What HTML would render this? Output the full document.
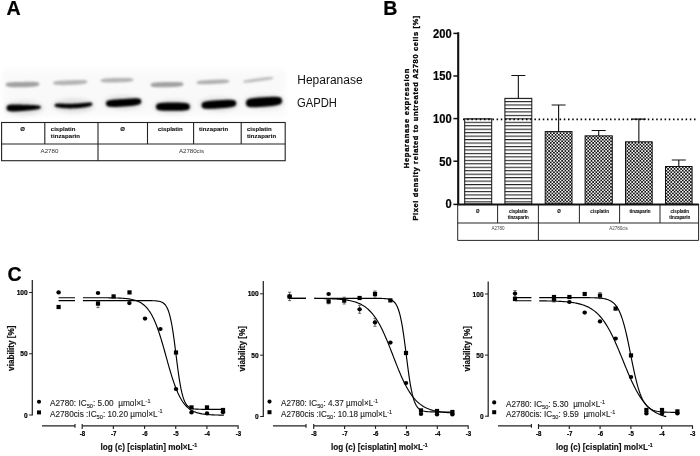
<!DOCTYPE html>
<html><head><meta charset="utf-8"><title>Figure</title>
<style>
html,body{margin:0;padding:0;background:#fff;}
body{width:700px;height:456px;overflow:hidden;font-family:"Liberation Sans",sans-serif;}
svg{display:block;opacity:0.999;font-family:"Liberation Sans",sans-serif;}
</style></head><body>
<svg width="700" height="456" viewBox="0 0 700 456">
<defs>
<filter id="b1" filterUnits="userSpaceOnUse" x="0" y="60" width="300" height="70"><feGaussianBlur stdDeviation="0.9"/></filter>
<filter id="b2" filterUnits="userSpaceOnUse" x="0" y="60" width="300" height="70"><feGaussianBlur stdDeviation="1.3"/></filter>
<filter id="b3" filterUnits="userSpaceOnUse" x="0" y="55" width="300" height="75"><feGaussianBlur stdDeviation="3"/></filter>
<filter id="b3s" filterUnits="userSpaceOnUse" x="0" y="55" width="300" height="75"><feGaussianBlur stdDeviation="2"/></filter>
<filter id="t1"><feGaussianBlur stdDeviation="0.35"/></filter>
<pattern id="hl" x="0" y="118.3" width="10" height="3.46" patternUnits="userSpaceOnUse"><rect x="0" y="0" width="10" height="1.1" fill="#222"/></pattern>
<pattern id="ck" x="545" y="130.7" width="3.26" height="3.26" patternUnits="userSpaceOnUse"><rect width="3.26" height="3.26" fill="#fff"/><rect x="-0.04" y="-0.04" width="1.71" height="1.71" fill="#111"/><rect x="1.59" y="1.59" width="1.71" height="1.71" fill="#111"/></pattern>
</defs>
<rect width="700" height="456" fill="#fff"/>

<text x="6.5" y="15.1" font-size="19.6" font-weight="bold" fill="#000" stroke="#000" stroke-width="0.2">A</text>
<rect x="3" y="70" width="282" height="46" fill="#f9f9f9" filter="url(#b3)"/>
<path d="M5.5 84.60 L6.3 83.20 L7.2 82.87 L8.1 82.66 L8.9 82.51 L9.8 82.39 L10.6 82.30 L11.4 82.23 L12.3 82.17 L13.2 82.12 L14.0 82.08 L14.9 82.05 L15.7 82.02 L16.6 82.00 L17.4 81.98 L18.2 81.97 L19.1 81.95 L19.9 81.94 L20.8 81.93 L21.6 81.91 L22.5 81.90 L23.4 81.88 L24.2 81.87 L25.0 81.85 L25.9 81.83 L26.8 81.82 L27.6 81.80 L28.5 81.79 L29.3 81.78 L30.1 81.78 L31.0 81.78 L31.9 81.79 L32.7 81.81 L33.5 81.84 L34.4 81.88 L35.2 81.94 L36.1 82.03 L37.0 82.15 L37.8 82.33 L38.6 82.63 L39.5 84.00 L39.5 84.00 L38.6 85.45 L37.8 85.82 L37.0 86.08 L36.1 86.28 L35.2 86.44 L34.4 86.57 L33.5 86.69 L32.7 86.79 L31.9 86.87 L31.0 86.94 L30.1 87.01 L29.3 87.06 L28.5 87.11 L27.6 87.15 L26.8 87.19 L25.9 87.22 L25.0 87.24 L24.2 87.27 L23.4 87.28 L22.5 87.30 L21.6 87.31 L20.8 87.33 L19.9 87.33 L19.1 87.34 L18.2 87.34 L17.4 87.33 L16.6 87.32 L15.7 87.30 L14.9 87.28 L14.0 87.24 L13.2 87.20 L12.3 87.15 L11.4 87.08 L10.6 86.99 L9.8 86.89 L8.9 86.76 L8.1 86.59 L7.2 86.36 L6.3 86.02 L5.5 84.60Z" fill="#666" opacity="0.6" filter="url(#b2)"/>
<path d="M53.0 83.00 L53.9 81.73 L54.7 81.42 L55.6 81.21 L56.5 81.05 L57.3 80.93 L58.2 80.82 L59.0 80.74 L59.9 80.66 L60.8 80.60 L61.6 80.55 L62.5 80.50 L63.4 80.45 L64.2 80.42 L65.1 80.38 L65.9 80.35 L66.8 80.32 L67.7 80.29 L68.5 80.26 L69.4 80.23 L70.2 80.20 L71.1 80.17 L72.0 80.14 L72.8 80.11 L73.7 80.08 L74.6 80.05 L75.4 80.02 L76.3 80.00 L77.2 79.97 L78.0 79.96 L78.9 79.95 L79.7 79.94 L80.6 79.94 L81.5 79.96 L82.3 79.98 L83.2 80.03 L84.0 80.09 L84.9 80.19 L85.8 80.34 L86.6 80.59 L87.5 81.80 L87.5 81.80 L86.6 83.10 L85.8 83.44 L84.9 83.68 L84.0 83.87 L83.2 84.03 L82.3 84.16 L81.5 84.27 L80.6 84.37 L79.7 84.46 L78.9 84.54 L78.0 84.61 L77.2 84.67 L76.3 84.73 L75.4 84.78 L74.6 84.82 L73.7 84.86 L72.8 84.90 L72.0 84.94 L71.1 84.97 L70.2 85.00 L69.4 85.03 L68.5 85.06 L67.7 85.08 L66.8 85.10 L65.9 85.12 L65.1 85.14 L64.2 85.15 L63.4 85.15 L62.5 85.15 L61.6 85.14 L60.8 85.12 L59.9 85.09 L59.0 85.05 L58.2 85.00 L57.3 84.93 L56.5 84.83 L55.6 84.70 L54.7 84.52 L53.9 84.24 L53.0 83.00Z" fill="#666" opacity="0.46" filter="url(#b2)"/>
<path d="M100.5 80.60 L101.3 79.43 L102.2 79.14 L103.0 78.94 L103.8 78.79 L104.6 78.67 L105.5 78.57 L106.3 78.48 L107.1 78.41 L107.9 78.35 L108.8 78.30 L109.6 78.25 L110.4 78.21 L111.2 78.17 L112.0 78.14 L112.9 78.11 L113.7 78.09 L114.5 78.06 L115.3 78.04 L116.2 78.02 L117.0 78.00 L117.8 77.98 L118.7 77.96 L119.5 77.94 L120.3 77.93 L121.1 77.91 L122.0 77.90 L122.8 77.89 L123.6 77.89 L124.4 77.89 L125.2 77.90 L126.1 77.91 L126.9 77.93 L127.7 77.96 L128.6 78.01 L129.4 78.07 L130.2 78.15 L131.0 78.26 L131.8 78.42 L132.7 78.67 L133.5 79.80 L133.5 79.80 L132.7 80.97 L131.8 81.26 L131.0 81.46 L130.2 81.61 L129.4 81.73 L128.6 81.83 L127.7 81.92 L126.9 81.99 L126.1 82.05 L125.2 82.10 L124.4 82.15 L123.6 82.19 L122.8 82.23 L122.0 82.26 L121.1 82.29 L120.3 82.31 L119.5 82.34 L118.7 82.36 L117.8 82.38 L117.0 82.40 L116.2 82.42 L115.3 82.44 L114.5 82.46 L113.7 82.47 L112.9 82.49 L112.0 82.50 L111.2 82.51 L110.4 82.51 L109.6 82.51 L108.8 82.50 L107.9 82.49 L107.1 82.47 L106.3 82.44 L105.5 82.39 L104.6 82.33 L103.8 82.25 L103.0 82.14 L102.2 81.98 L101.3 81.73 L100.5 80.60Z" fill="#666" opacity="0.48" filter="url(#b2)"/>
<path d="M150.5 85.00 L151.3 83.62 L152.2 83.28 L153.0 83.05 L153.8 82.87 L154.6 82.73 L155.4 82.62 L156.3 82.52 L157.1 82.44 L157.9 82.37 L158.8 82.31 L159.6 82.26 L160.4 82.22 L161.2 82.18 L162.1 82.14 L162.9 82.11 L163.7 82.09 L164.5 82.06 L165.3 82.04 L166.2 82.02 L167.0 82.00 L167.8 81.98 L168.7 81.96 L169.5 81.94 L170.3 81.93 L171.1 81.91 L171.9 81.90 L172.8 81.90 L173.6 81.90 L174.4 81.90 L175.2 81.91 L176.1 81.93 L176.9 81.96 L177.7 82.00 L178.6 82.06 L179.4 82.13 L180.2 82.23 L181.0 82.37 L181.8 82.56 L182.7 82.86 L183.5 84.20 L183.5 84.20 L182.7 85.58 L181.8 85.92 L181.0 86.15 L180.2 86.33 L179.4 86.47 L178.6 86.58 L177.7 86.68 L176.9 86.76 L176.1 86.83 L175.2 86.89 L174.4 86.94 L173.6 86.98 L172.8 87.02 L171.9 87.06 L171.1 87.09 L170.3 87.11 L169.5 87.14 L168.7 87.16 L167.8 87.18 L167.0 87.20 L166.2 87.22 L165.3 87.24 L164.5 87.26 L163.7 87.27 L162.9 87.29 L162.1 87.30 L161.2 87.30 L160.4 87.30 L159.6 87.30 L158.8 87.29 L157.9 87.27 L157.1 87.24 L156.3 87.20 L155.4 87.14 L154.6 87.07 L153.8 86.97 L153.0 86.83 L152.2 86.64 L151.3 86.34 L150.5 85.00Z" fill="#666" opacity="0.6" filter="url(#b2)"/>
<path d="M196.5 82.60 L197.3 81.47 L198.2 81.17 L199.0 80.97 L199.8 80.81 L200.6 80.68 L201.4 80.56 L202.3 80.47 L203.1 80.38 L203.9 80.31 L204.8 80.24 L205.6 80.18 L206.4 80.13 L207.2 80.08 L208.1 80.03 L208.9 79.99 L209.7 79.95 L210.5 79.91 L211.3 79.87 L212.2 79.84 L213.0 79.80 L213.8 79.77 L214.7 79.73 L215.5 79.70 L216.3 79.67 L217.1 79.64 L217.9 79.61 L218.8 79.59 L219.6 79.57 L220.4 79.55 L221.2 79.54 L222.1 79.54 L222.9 79.54 L223.7 79.56 L224.6 79.58 L225.4 79.63 L226.2 79.69 L227.0 79.78 L227.8 79.91 L228.7 80.14 L229.5 81.20 L229.5 81.20 L228.7 82.33 L227.8 82.63 L227.0 82.83 L226.2 82.99 L225.4 83.12 L224.6 83.24 L223.7 83.33 L222.9 83.42 L222.1 83.49 L221.2 83.56 L220.4 83.62 L219.6 83.67 L218.8 83.72 L217.9 83.77 L217.1 83.81 L216.3 83.85 L215.5 83.89 L214.7 83.93 L213.8 83.96 L213.0 84.00 L212.2 84.03 L211.3 84.07 L210.5 84.10 L209.7 84.13 L208.9 84.16 L208.1 84.19 L207.2 84.21 L206.4 84.23 L205.6 84.25 L204.8 84.26 L203.9 84.26 L203.1 84.26 L202.3 84.24 L201.4 84.22 L200.6 84.17 L199.8 84.11 L199.0 84.02 L198.2 83.89 L197.3 83.66 L196.5 82.60Z" fill="#666" opacity="0.5" filter="url(#b2)"/>
<path d="M243.0 81.80 L243.8 80.86 L244.5 80.56 L245.3 80.34 L246.1 80.14 L246.8 79.97 L247.6 79.81 L248.3 79.66 L249.1 79.52 L249.9 79.39 L250.6 79.27 L251.4 79.15 L252.2 79.03 L252.9 78.92 L253.7 78.81 L254.4 78.71 L255.2 78.60 L256.0 78.50 L256.7 78.40 L257.5 78.30 L258.2 78.20 L259.0 78.10 L259.8 78.00 L260.5 77.90 L261.3 77.80 L262.1 77.71 L262.8 77.61 L263.6 77.52 L264.4 77.43 L265.1 77.35 L265.9 77.27 L266.6 77.19 L267.4 77.12 L268.2 77.06 L268.9 77.01 L269.7 76.97 L270.4 76.94 L271.2 76.94 L272.0 76.96 L272.7 77.06 L273.5 77.80 L273.5 77.80 L272.7 78.74 L272.0 79.04 L271.2 79.26 L270.4 79.46 L269.7 79.63 L268.9 79.79 L268.2 79.94 L267.4 80.08 L266.6 80.21 L265.9 80.33 L265.1 80.45 L264.4 80.57 L263.6 80.68 L262.8 80.79 L262.1 80.89 L261.3 81.00 L260.5 81.10 L259.8 81.20 L259.0 81.30 L258.2 81.40 L257.5 81.50 L256.7 81.60 L256.0 81.70 L255.2 81.80 L254.4 81.89 L253.7 81.99 L252.9 82.08 L252.2 82.17 L251.4 82.25 L250.6 82.33 L249.9 82.41 L249.1 82.48 L248.3 82.54 L247.6 82.59 L246.8 82.63 L246.1 82.66 L245.3 82.66 L244.5 82.64 L243.8 82.54 L243.0 81.80Z" fill="#666" opacity="0.4" filter="url(#b2)"/>
<ellipse cx="24.0" cy="108" rx="19.0" ry="7" fill="#999" opacity="0.28" filter="url(#b3s)"/>
<ellipse cx="73.5" cy="105.5" rx="20.5" ry="7" fill="#999" opacity="0.28" filter="url(#b3s)"/>
<ellipse cx="123.5" cy="102.5" rx="19.5" ry="7" fill="#999" opacity="0.28" filter="url(#b3s)"/>
<ellipse cx="173.0" cy="106.7" rx="19.0" ry="7" fill="#999" opacity="0.28" filter="url(#b3s)"/>
<ellipse cx="218.5" cy="104.2" rx="19.5" ry="7" fill="#999" opacity="0.28" filter="url(#b3s)"/>
<ellipse cx="264.0" cy="102" rx="20.0" ry="7" fill="#999" opacity="0.28" filter="url(#b3s)"/>
<path d="M6.4 108.00 L7.3 105.58 L8.1 105.13 L9.0 104.88 L9.9 104.71 L10.7 104.60 L11.6 104.52 L12.5 104.47 L13.3 104.45 L14.2 104.43 L15.1 104.44 L15.9 104.45 L16.8 104.46 L17.6 104.49 L18.5 104.51 L19.4 104.54 L20.2 104.57 L21.1 104.61 L22.0 104.64 L22.8 104.67 L23.7 104.70 L24.6 104.73 L25.4 104.76 L26.3 104.79 L27.2 104.81 L28.0 104.84 L28.9 104.87 L29.8 104.90 L30.6 104.93 L31.5 104.97 L32.4 105.01 L33.2 105.05 L34.1 105.10 L34.9 105.16 L35.8 105.23 L36.7 105.31 L37.5 105.41 L38.4 105.53 L39.3 105.70 L40.1 105.95 L41.0 107.20 L41.0 107.20 L40.1 108.52 L39.3 108.84 L38.4 109.08 L37.5 109.27 L36.7 109.44 L35.8 109.59 L34.9 109.73 L34.1 109.85 L33.2 109.97 L32.4 110.07 L31.5 110.17 L30.6 110.27 L29.8 110.36 L28.9 110.45 L28.0 110.53 L27.2 110.61 L26.3 110.68 L25.4 110.76 L24.6 110.83 L23.7 110.90 L22.8 110.97 L22.0 111.04 L21.1 111.10 L20.2 111.17 L19.4 111.23 L18.5 111.28 L17.6 111.34 L16.8 111.38 L15.9 111.42 L15.1 111.45 L14.2 111.47 L13.3 111.47 L12.5 111.46 L11.6 111.42 L10.7 111.36 L9.9 111.26 L9.0 111.10 L8.1 110.85 L7.3 110.41 L6.4 108.00Z" fill="#050505" opacity="1" filter="url(#b1)"/>
<path d="M54.4 105.20 L55.4 103.91 L56.3 103.71 L57.3 103.62 L58.2 103.57 L59.2 103.55 L60.1 103.55 L61.1 103.56 L62.0 103.58 L63.0 103.60 L63.9 103.63 L64.9 103.65 L65.9 103.67 L66.8 103.69 L67.8 103.70 L68.7 103.71 L69.7 103.71 L70.6 103.71 L71.6 103.70 L72.5 103.68 L73.5 103.65 L74.5 103.61 L75.4 103.57 L76.4 103.51 L77.3 103.45 L78.3 103.39 L79.2 103.31 L80.2 103.23 L81.1 103.15 L82.1 103.06 L83.0 102.98 L84.0 102.89 L85.0 102.80 L85.9 102.72 L86.9 102.65 L87.8 102.59 L88.8 102.55 L89.7 102.53 L90.7 102.57 L91.6 102.71 L92.6 104.00 L92.6 104.00 L91.6 105.57 L90.7 105.99 L89.7 106.30 L88.8 106.56 L87.8 106.78 L86.9 106.98 L85.9 107.16 L85.0 107.32 L84.0 107.47 L83.0 107.60 L82.1 107.72 L81.1 107.83 L80.2 107.93 L79.2 108.02 L78.3 108.10 L77.3 108.17 L76.4 108.23 L75.4 108.28 L74.5 108.32 L73.5 108.35 L72.5 108.37 L71.6 108.39 L70.6 108.39 L69.7 108.39 L68.7 108.38 L67.8 108.35 L66.8 108.32 L65.9 108.28 L64.9 108.22 L63.9 108.15 L63.0 108.08 L62.0 107.98 L61.1 107.88 L60.1 107.76 L59.2 107.62 L58.2 107.45 L57.3 107.25 L56.3 107.01 L55.4 106.65 L54.4 105.20Z" fill="#050505" opacity="1" filter="url(#b1)"/>
<path d="M105.8 103.60 L106.7 101.30 L107.6 100.82 L108.5 100.50 L109.4 100.27 L110.2 100.09 L111.1 99.94 L112.0 99.82 L112.9 99.71 L113.8 99.62 L114.7 99.54 L115.6 99.46 L116.5 99.40 L117.4 99.34 L118.3 99.28 L119.2 99.22 L120.0 99.17 L120.9 99.12 L121.8 99.06 L122.7 99.01 L123.6 98.95 L124.5 98.89 L125.4 98.83 L126.3 98.77 L127.2 98.71 L128.1 98.65 L128.9 98.59 L129.8 98.53 L130.7 98.48 L131.6 98.43 L132.5 98.39 L133.4 98.35 L134.3 98.33 L135.2 98.32 L136.1 98.33 L136.9 98.37 L137.8 98.43 L138.7 98.55 L139.6 98.75 L140.5 99.11 L141.4 101.30 L141.4 101.30 L140.5 103.65 L139.6 104.18 L138.7 104.54 L137.8 104.81 L136.9 105.04 L136.1 105.23 L135.2 105.40 L134.3 105.54 L133.4 105.67 L132.5 105.79 L131.6 105.89 L130.7 105.99 L129.8 106.08 L128.9 106.16 L128.1 106.23 L127.2 106.30 L126.3 106.37 L125.4 106.43 L124.5 106.49 L123.6 106.55 L122.7 106.61 L121.8 106.66 L120.9 106.71 L120.0 106.76 L119.2 106.81 L118.3 106.85 L117.4 106.88 L116.5 106.91 L115.6 106.93 L114.7 106.94 L113.8 106.94 L112.9 106.92 L112.0 106.89 L111.1 106.84 L110.2 106.76 L109.4 106.65 L108.5 106.49 L107.6 106.25 L106.7 105.83 L105.8 103.60Z" fill="#050505" opacity="1" filter="url(#b1)"/>
<path d="M155.8 106.70 L156.7 104.19 L157.5 103.70 L158.4 103.40 L159.2 103.18 L160.1 103.02 L160.9 102.90 L161.8 102.81 L162.6 102.73 L163.5 102.68 L164.4 102.63 L165.2 102.60 L166.1 102.58 L166.9 102.56 L167.8 102.55 L168.6 102.55 L169.5 102.54 L170.3 102.54 L171.2 102.55 L172.0 102.55 L172.9 102.55 L173.8 102.55 L174.6 102.56 L175.5 102.56 L176.3 102.56 L177.2 102.57 L178.0 102.58 L178.9 102.60 L179.7 102.62 L180.6 102.65 L181.4 102.68 L182.3 102.73 L183.2 102.79 L184.0 102.87 L184.9 102.96 L185.7 103.09 L186.6 103.25 L187.4 103.46 L188.3 103.77 L189.1 104.25 L190.0 106.70 L190.0 106.70 L189.1 109.15 L188.3 109.63 L187.4 109.94 L186.6 110.15 L185.7 110.31 L184.9 110.44 L184.0 110.53 L183.2 110.61 L182.3 110.67 L181.4 110.72 L180.6 110.75 L179.7 110.78 L178.9 110.80 L178.0 110.82 L177.2 110.83 L176.3 110.84 L175.5 110.84 L174.6 110.84 L173.8 110.85 L172.9 110.85 L172.0 110.85 L171.2 110.85 L170.3 110.86 L169.5 110.86 L168.6 110.85 L167.8 110.85 L166.9 110.84 L166.1 110.82 L165.2 110.80 L164.4 110.77 L163.5 110.72 L162.6 110.67 L161.8 110.59 L160.9 110.50 L160.1 110.38 L159.2 110.22 L158.4 110.00 L157.5 109.70 L156.7 109.21 L155.8 106.70Z" fill="#050505" opacity="1" filter="url(#b1)"/>
<path d="M201.4 105.40 L202.3 102.87 L203.2 102.33 L204.0 101.97 L204.9 101.70 L205.8 101.49 L206.7 101.32 L207.5 101.17 L208.4 101.04 L209.3 100.93 L210.2 100.83 L211.0 100.75 L211.9 100.67 L212.8 100.60 L213.7 100.53 L214.5 100.47 L215.4 100.41 L216.3 100.36 L217.2 100.31 L218.0 100.25 L218.9 100.20 L219.8 100.15 L220.7 100.10 L221.5 100.04 L222.4 99.99 L223.3 99.95 L224.2 99.90 L225.0 99.86 L225.9 99.83 L226.8 99.80 L227.7 99.78 L228.5 99.77 L229.4 99.78 L230.3 99.80 L231.2 99.84 L232.0 99.91 L232.9 100.01 L233.8 100.17 L234.7 100.41 L235.5 100.84 L236.4 103.20 L236.4 103.20 L235.5 105.67 L234.7 106.21 L233.8 106.56 L232.9 106.83 L232.0 107.04 L231.2 107.22 L230.3 107.37 L229.4 107.50 L228.5 107.62 L227.7 107.72 L226.8 107.81 L225.9 107.89 L225.0 107.97 L224.2 108.04 L223.3 108.10 L222.4 108.17 L221.5 108.23 L220.7 108.28 L219.8 108.34 L218.9 108.40 L218.0 108.46 L217.2 108.51 L216.3 108.57 L215.4 108.63 L214.5 108.68 L213.7 108.73 L212.8 108.77 L211.9 108.81 L211.0 108.84 L210.2 108.87 L209.3 108.88 L208.4 108.88 L207.5 108.86 L206.7 108.82 L205.8 108.76 L204.9 108.66 L204.0 108.50 L203.2 108.25 L202.3 107.82 L201.4 105.40Z" fill="#050505" opacity="1" filter="url(#b1)"/>
<path d="M245.8 103.20 L246.7 100.22 L247.6 99.58 L248.5 99.17 L249.4 98.86 L250.4 98.62 L251.3 98.42 L252.2 98.25 L253.1 98.11 L254.0 97.98 L254.9 97.88 L255.8 97.78 L256.7 97.70 L257.6 97.62 L258.5 97.55 L259.4 97.49 L260.4 97.42 L261.3 97.37 L262.2 97.31 L263.1 97.26 L264.0 97.20 L264.9 97.15 L265.8 97.09 L266.7 97.04 L267.6 96.98 L268.6 96.94 L269.5 96.89 L270.4 96.85 L271.3 96.82 L272.2 96.79 L273.1 96.77 L274.0 96.77 L274.9 96.78 L275.8 96.81 L276.7 96.86 L277.6 96.94 L278.6 97.06 L279.5 97.25 L280.4 97.53 L281.3 98.01 L282.2 100.70 L282.2 100.70 L281.3 103.51 L280.4 104.12 L279.5 104.53 L278.6 104.84 L277.6 105.09 L276.7 105.29 L275.8 105.47 L274.9 105.62 L274.0 105.76 L273.1 105.88 L272.2 105.99 L271.3 106.08 L270.4 106.18 L269.5 106.26 L268.6 106.34 L267.6 106.42 L266.7 106.49 L265.8 106.56 L264.9 106.63 L264.0 106.70 L263.1 106.77 L262.2 106.84 L261.3 106.91 L260.4 106.98 L259.4 107.04 L258.5 107.10 L257.6 107.15 L256.7 107.20 L255.8 107.24 L254.9 107.27 L254.0 107.29 L253.1 107.29 L252.2 107.28 L251.3 107.23 L250.4 107.16 L249.4 107.04 L248.5 106.85 L247.6 106.57 L246.7 106.06 L245.8 103.20Z" fill="#050505" opacity="1" filter="url(#b1)"/>
<text x="297.3" y="83.8" font-size="12" fill="#111" textLength="65.3" lengthAdjust="spacingAndGlyphs">Heparanase</text>
<text x="297" y="106.6" font-size="12" fill="#111" textLength="39.9" lengthAdjust="spacingAndGlyphs">GAPDH</text>
<g stroke="#222" stroke-width="1.1" fill="none">
<rect x="1.6" y="122.5" width="283.6" height="38.2"/>
<line x1="1.6" y1="144" x2="285.2" y2="144"/>
<line x1="44.8" y1="122.5" x2="44.8" y2="144"/>
<line x1="147.5" y1="122.5" x2="147.5" y2="144"/>
<line x1="193.6" y1="122.5" x2="193.6" y2="144"/>
<line x1="241.2" y1="122.5" x2="241.2" y2="144"/>
<line x1="98" y1="122.5" x2="98" y2="160.7"/>
</g>
<g font-size="6" font-weight="bold" fill="#111" stroke="#111" stroke-width="0.12" lengthAdjust="spacingAndGlyphs">
<text x="22.5" y="130.7" text-anchor="middle">Ø</text>
<text x="50.8" y="130.7" textLength="24.6">cisplatin</text><text x="50.8" y="137.8" textLength="29.2">tinzaparin</text>
<text x="122.7" y="130.7" text-anchor="middle">Ø</text>
<text x="158" y="130.7" textLength="24.6">cisplatin</text>
<text x="199" y="130.7" textLength="29.2">tinzaparin</text>
<text x="247" y="130.7" textLength="24.6">cisplatin</text><text x="247" y="137.8" textLength="29.2">tinzaparin</text>
</g>
<g font-size="6.2" fill="#333">
<text x="49.5" y="152.6" text-anchor="middle" textLength="17.8">A2780</text>
<text x="191.5" y="152.6" text-anchor="middle" textLength="25">A2780cis</text>
</g>
<text x="383.3" y="15.2" font-size="19.6" font-weight="bold" fill="#000" stroke="#000" stroke-width="0.2">B</text>
<rect x="464.7" y="118.8" width="27.0" height="85.2" fill="url(#hl)" stroke="#111" stroke-width="1.0"/>
<path d="M518.3499999999999 98.352 V75.51839999999999 M511.3499999999999 75.51839999999999 H525.3499999999999" stroke="#111" stroke-width="1.1" fill="none"/>
<rect x="504.9" y="98.352" width="26.899999999999977" height="105.648" fill="url(#hl)" stroke="#111" stroke-width="1.0"/>
<path d="M558.6 131.57999999999998 V104.9976 M551.6 104.9976 H565.6" stroke="#111" stroke-width="1.1" fill="none"/>
<rect x="545.2" y="131.57999999999998" width="26.799999999999955" height="72.42000000000002" fill="url(#ck)" stroke="#111" stroke-width="1.0"/>
<path d="M598.7 135.84 V130.55759999999998 M591.7 130.55759999999998 H605.7" stroke="#111" stroke-width="1.1" fill="none"/>
<rect x="585.1" y="135.84" width="27.199999999999932" height="68.16" fill="url(#ck)" stroke="#111" stroke-width="1.0"/>
<path d="M638.85 141.804 V119.14080000000001 M631.85 119.14080000000001 H645.85" stroke="#111" stroke-width="1.1" fill="none"/>
<rect x="625.5" y="141.804" width="26.700000000000045" height="62.196" fill="url(#ck)" stroke="#111" stroke-width="1.0"/>
<path d="M678.8 166.512 V160.0368 M671.8 160.0368 H685.8" stroke="#111" stroke-width="1.1" fill="none"/>
<rect x="665.5" y="166.512" width="26.600000000000023" height="37.488" fill="url(#ck)" stroke="#111" stroke-width="1.0"/>
<line x1="463" y1="119.4" x2="698" y2="119.4" stroke="#000" stroke-width="1.6" stroke-dasharray="1.5 2.7"/>
<path d="M458.2 32.2 V205 M457.3 204.45 H698.8" stroke="#111" stroke-width="2.1" fill="none"/>
<line x1="453.4" y1="204.4" x2="458" y2="204.4" stroke="#111" stroke-width="1.5"/>
<text x="451.7" y="208.4" font-size="11.9" font-weight="bold" fill="#000" stroke="#000" stroke-width="0.2" text-anchor="end" textLength="6.2" lengthAdjust="spacingAndGlyphs">0</text>
<line x1="453.4" y1="161.20000000000002" x2="458" y2="161.20000000000002" stroke="#111" stroke-width="1.5"/>
<text x="451.7" y="165.60000000000002" font-size="11.9" font-weight="bold" fill="#000" stroke="#000" stroke-width="0.2" text-anchor="end" textLength="12.4" lengthAdjust="spacingAndGlyphs">50</text>
<line x1="453.4" y1="118.6" x2="458" y2="118.6" stroke="#111" stroke-width="1.5"/>
<text x="451.7" y="123.0" font-size="11.9" font-weight="bold" fill="#000" stroke="#000" stroke-width="0.2" text-anchor="end" textLength="18.6" lengthAdjust="spacingAndGlyphs">100</text>
<line x1="453.4" y1="76.0" x2="458" y2="76.0" stroke="#111" stroke-width="1.5"/>
<text x="451.7" y="80.4" font-size="11.9" font-weight="bold" fill="#000" stroke="#000" stroke-width="0.2" text-anchor="end" textLength="18.6" lengthAdjust="spacingAndGlyphs">150</text>
<line x1="453.4" y1="33.39999999999999" x2="458" y2="33.39999999999999" stroke="#111" stroke-width="1.5"/>
<text x="451.7" y="37.79999999999999" font-size="11.9" font-weight="bold" fill="#000" stroke="#000" stroke-width="0.2" text-anchor="end" textLength="18.6" lengthAdjust="spacingAndGlyphs">200</text>
<text transform="translate(408.7 118.5) rotate(-90)" font-size="7.6" font-weight="bold" fill="#000" stroke="#000" stroke-width="0.3" text-anchor="middle" textLength="99.6" lengthAdjust="spacing">Heparanase expression</text>
<text transform="translate(418.4 118.1) rotate(-90)" font-size="7.6" font-weight="bold" fill="#000" stroke="#000" stroke-width="0.3" text-anchor="middle" textLength="205" lengthAdjust="spacing">Pixel density related to untreated A2780 cells [%]</text>
<g stroke="#1a1a1a" stroke-width="0.95" fill="none">
<path d="M457.7 204 V240.4 H698.6 V204 M457.7 223 H698.6 M538.4 204 V240.4"/>
<line x1="497.6" y1="204" x2="497.6" y2="223"/>
<line x1="579.4" y1="204" x2="579.4" y2="223"/>
<line x1="619.6" y1="204" x2="619.6" y2="223"/>
<line x1="660" y1="204" x2="660" y2="223"/>
</g>
<g font-size="4.5" font-weight="bold" fill="#111" stroke="#111" stroke-width="0.1" text-anchor="middle" lengthAdjust="spacingAndGlyphs">
<text x="477.7" y="212.7">Ø</text>
<text x="518.2" y="212.6" textLength="18.6">cisplatin</text><text x="518.2" y="218.7" textLength="21">tinzaparin</text>
<text x="559" y="212.7">Ø</text>
<text x="599.6" y="212.7" textLength="18.6">cisplatin</text>
<text x="640" y="212.7" textLength="21">tinzaparin</text>
<text x="679.8" y="212.6" textLength="18.6">cisplatin</text><text x="679.8" y="218.7" textLength="21">tinzaparin</text>
</g>
<g font-size="4.5" fill="#444" text-anchor="middle"><text x="498" y="229.6">A2780</text><text x="618.4" y="229.6">A2780cis</text></g>
<text x="7.4" y="280.6" font-size="19.6" font-weight="bold" fill="#000" stroke="#000" stroke-width="0.2">C</text>
<path d="M32.3 280 V415.5" stroke="#222" stroke-width="1.25" fill="none"/>
<line x1="29.099999999999998" y1="415.0" x2="32.3" y2="415.0" stroke="#222" stroke-width="1"/>
<text x="27.699999999999996" y="417.55" font-size="7.1" font-weight="bold" fill="#000" stroke="#000" stroke-width="0.2" text-anchor="end" textLength="3.67" lengthAdjust="spacingAndGlyphs">0</text>
<line x1="29.099999999999998" y1="353.75" x2="32.3" y2="353.75" stroke="#222" stroke-width="1"/>
<text x="27.699999999999996" y="356.3" font-size="7.1" font-weight="bold" fill="#000" stroke="#000" stroke-width="0.2" text-anchor="end" textLength="7.34" lengthAdjust="spacingAndGlyphs">50</text>
<line x1="29.099999999999998" y1="292.5" x2="32.3" y2="292.5" stroke="#222" stroke-width="1"/>
<text x="27.699999999999996" y="295.05" font-size="7.1" font-weight="bold" fill="#000" stroke="#000" stroke-width="0.2" text-anchor="end" textLength="11.01" lengthAdjust="spacingAndGlyphs">100</text>
<text transform="translate(14.2 348.2) rotate(-90)" font-size="8.2" font-weight="bold" fill="#111" stroke="#111" stroke-width="0.2" text-anchor="middle" textLength="45.4" lengthAdjust="spacingAndGlyphs">viability [%]</text>
<path d="M42 425.9 H75.0 M75.0 424.09999999999997 V427.7 M82.2 424.09999999999997 V428.9 M82.2 425.9 H238.1 V428.9" stroke="#222" stroke-width="1.15" fill="none"/>
<text x="82.5" y="436.0" font-size="7" font-weight="bold" fill="#000" stroke="#000" stroke-width="0.2" text-anchor="middle" textLength="5.4" lengthAdjust="spacingAndGlyphs">-8</text>
<line x1="113.38" y1="425.9" x2="113.38" y2="428.9" stroke="#222" stroke-width="1.15"/>
<text x="113.67999999999999" y="436.0" font-size="7" font-weight="bold" fill="#000" stroke="#000" stroke-width="0.2" text-anchor="middle" textLength="5.4" lengthAdjust="spacingAndGlyphs">-7</text>
<line x1="144.56" y1="425.9" x2="144.56" y2="428.9" stroke="#222" stroke-width="1.15"/>
<text x="144.86" y="436.0" font-size="7" font-weight="bold" fill="#000" stroke="#000" stroke-width="0.2" text-anchor="middle" textLength="5.4" lengthAdjust="spacingAndGlyphs">-6</text>
<line x1="175.74" y1="425.9" x2="175.74" y2="428.9" stroke="#222" stroke-width="1.15"/>
<text x="176.04000000000002" y="436.0" font-size="7" font-weight="bold" fill="#000" stroke="#000" stroke-width="0.2" text-anchor="middle" textLength="5.4" lengthAdjust="spacingAndGlyphs">-5</text>
<line x1="206.92" y1="425.9" x2="206.92" y2="428.9" stroke="#222" stroke-width="1.15"/>
<text x="207.22" y="436.0" font-size="7" font-weight="bold" fill="#000" stroke="#000" stroke-width="0.2" text-anchor="middle" textLength="5.4" lengthAdjust="spacingAndGlyphs">-4</text>
<text x="238.39999999999998" y="436.0" font-size="7" font-weight="bold" fill="#000" stroke="#000" stroke-width="0.2" text-anchor="middle" textLength="5.4" lengthAdjust="spacingAndGlyphs">-3</text>
<text x="100.4" y="450.2" font-size="8.15" font-weight="bold" fill="#111" stroke="#111" stroke-width="0.15" textLength="96.8" lengthAdjust="spacing">log (c) [cisplatin] mol×L<tspan font-size="5.3" dy="-3.4">-1</tspan></text>
<path d="M58.6 297.71 H75.0 M82.9 297.71 L83.9 297.71 L84.9 297.71 L85.9 297.71 L86.9 297.71 L87.9 297.71 L88.9 297.72 L89.9 297.72 L90.9 297.72 L91.9 297.72 L92.9 297.72 L93.9 297.72 L94.9 297.73 L95.9 297.73 L96.9 297.73 L97.9 297.73 L98.9 297.74 L99.9 297.74 L100.9 297.75 L101.9 297.75 L102.9 297.76 L103.9 297.76 L104.9 297.77 L105.9 297.78 L106.9 297.79 L107.9 297.80 L108.9 297.81 L109.9 297.83 L110.9 297.84 L111.9 297.86 L112.9 297.88 L113.9 297.90 L114.9 297.93 L115.9 297.96 L116.9 297.99 L117.9 298.03 L118.9 298.07 L119.9 298.11 L120.9 298.17 L121.9 298.23 L122.9 298.29 L123.9 298.37 L124.9 298.46 L125.9 298.55 L126.9 298.66 L127.9 298.79 L128.9 298.93 L129.9 299.08 L130.9 299.26 L131.9 299.46 L132.9 299.69 L133.9 299.94 L134.9 300.22 L135.9 300.54 L136.9 300.91 L137.9 301.31 L138.9 301.76 L139.9 302.27 L140.9 302.84 L141.9 303.48 L142.9 304.19 L143.9 304.98 L144.9 305.87 L145.9 306.85 L146.9 307.93 L147.9 309.14 L148.9 310.47 L149.9 311.93 L150.9 313.54 L151.9 315.29 L152.9 317.21 L153.9 319.28 L154.9 321.53 L155.9 323.94 L156.9 326.52 L157.9 329.27 L158.9 332.18 L159.9 335.24 L160.9 338.44 L161.9 341.76 L162.9 345.18 L163.9 348.69 L164.9 352.25 L165.9 355.85 L166.9 359.45 L167.9 363.03 L168.9 366.55 L169.9 370.01 L170.9 373.37 L171.9 376.61 L172.9 379.72 L173.9 382.69 L174.9 385.49 L175.9 388.13 L176.9 390.60 L177.9 392.91 L178.9 395.04 L179.9 397.01 L180.9 398.82 L181.9 400.48 L182.9 401.99 L183.9 403.36 L184.9 404.61 L185.9 405.74 L186.9 406.76 L187.9 407.67 L188.9 408.50 L189.9 409.23 L190.9 409.90 L191.9 410.49 L192.9 411.02 L193.9 411.49 L194.9 411.91 L195.9 412.29 L196.9 412.62 L197.9 412.92 L198.9 413.18 L199.9 413.41 L200.9 413.62 L201.9 413.81 L202.9 413.97 L203.9 414.12 L204.9 414.25 L205.9 414.36 L206.9 414.46 L207.9 414.55 L208.9 414.63 L209.9 414.70 L210.9 414.76 L211.9 414.82 L212.9 414.87 L213.9 414.91 L214.9 414.95 L215.9 414.98 L216.9 415.01 L217.9 415.04 L218.9 415.06 L219.9 415.09 L220.9 415.10 L221.9 415.12 L222.9 415.13 L223.9 415.15" stroke="#000" stroke-width="1.15" fill="none"/>
<path d="M58.6 300.58 H75.0 M82.9 300.59 L83.9 300.59 L84.9 300.59 L85.9 300.59 L86.9 300.59 L87.9 300.59 L88.9 300.59 L89.9 300.59 L90.9 300.59 L91.9 300.59 L92.9 300.59 L93.9 300.59 L94.9 300.59 L95.9 300.59 L96.9 300.59 L97.9 300.59 L98.9 300.59 L99.9 300.59 L100.9 300.59 L101.9 300.59 L102.9 300.59 L103.9 300.59 L104.9 300.59 L105.9 300.59 L106.9 300.59 L107.9 300.59 L108.9 300.59 L109.9 300.59 L110.9 300.59 L111.9 300.59 L112.9 300.59 L113.9 300.59 L114.9 300.59 L115.9 300.59 L116.9 300.59 L117.9 300.59 L118.9 300.59 L119.9 300.59 L120.9 300.59 L121.9 300.59 L122.9 300.59 L123.9 300.59 L124.9 300.59 L125.9 300.59 L126.9 300.59 L127.9 300.59 L128.9 300.59 L129.9 300.59 L130.9 300.59 L131.9 300.59 L132.9 300.59 L133.9 300.59 L134.9 300.59 L135.9 300.59 L136.9 300.59 L137.9 300.59 L138.9 300.59 L139.9 300.59 L140.9 300.59 L141.9 300.59 L142.9 300.59 L143.9 300.59 L144.9 300.60 L145.9 300.60 L146.9 300.60 L147.9 300.61 L148.9 300.62 L149.9 300.63 L150.9 300.65 L151.9 300.67 L152.9 300.70 L153.9 300.74 L154.9 300.79 L155.9 300.87 L156.9 300.96 L157.9 301.09 L158.9 301.27 L159.9 301.50 L160.9 301.81 L161.9 302.22 L162.9 302.78 L163.9 303.51 L164.9 304.48 L165.9 305.75 L166.9 307.41 L167.9 309.57 L168.9 312.32 L169.9 315.79 L170.9 320.08 L171.9 325.26 L172.9 331.34 L173.9 338.25 L174.9 345.81 L175.9 353.76 L176.9 361.75 L177.9 369.46 L178.9 376.59 L179.9 382.94 L180.9 388.40 L181.9 392.95 L182.9 396.66 L183.9 399.62 L184.9 401.94 L185.9 403.74 L186.9 405.12 L187.9 406.18 L188.9 406.97 L189.9 407.58 L190.9 408.03 L191.9 408.37 L192.9 408.62 L193.9 408.81 L194.9 408.95 L195.9 409.06 L196.9 409.14 L197.9 409.19 L198.9 409.24 L199.9 409.27 L200.9 409.29 L201.9 409.31 L202.9 409.33 L203.9 409.34 L204.9 409.34 L205.9 409.35 L206.9 409.35 L207.9 409.36 L208.9 409.36 L209.9 409.36 L210.9 409.36 L211.9 409.36 L212.9 409.36 L213.9 409.36 L214.9 409.36 L215.9 409.36 L216.9 409.36 L217.9 409.36 L218.9 409.36 L219.9 409.36 L220.9 409.36 L221.9 409.36 L222.9 409.36 L223.9 409.36" stroke="#000" stroke-width="1.15" fill="none"/>
<path d="M98 301.2 V307.59999999999997 M96.4 301.2 H99.6 M96.4 307.59999999999997 H99.6" stroke="#333" stroke-width="0.7" fill="none"/>
<rect x="56.5" y="304.9" width="4.2" height="4.2" fill="#000"/>
<rect x="95.9" y="301.5" width="4.2" height="4.2" fill="#000"/>
<rect x="111.5" y="294.29999999999995" width="4.2" height="4.2" fill="#000"/>
<rect x="127.4" y="290.29999999999995" width="4.2" height="4.2" fill="#000"/>
<rect x="173.9" y="350.4" width="4.2" height="4.2" fill="#000"/>
<rect x="189.4" y="405.29999999999995" width="4.2" height="4.2" fill="#000"/>
<rect x="204.9" y="405.29999999999995" width="4.2" height="4.2" fill="#000"/>
<rect x="220.9" y="407.9" width="4.2" height="4.2" fill="#000"/>
<ellipse cx="58.6" cy="292.4" rx="2.25" ry="2.1" fill="#000"/>
<ellipse cx="98" cy="293" rx="2.25" ry="2.1" fill="#000"/>
<ellipse cx="129.4" cy="303.1" rx="2.25" ry="2.1" fill="#000"/>
<ellipse cx="145" cy="318.6" rx="2.25" ry="2.1" fill="#000"/>
<ellipse cx="160.4" cy="329" rx="2.25" ry="2.1" fill="#000"/>
<ellipse cx="176" cy="389" rx="2.25" ry="2.1" fill="#000"/>
<ellipse cx="191.5" cy="412.4" rx="2.25" ry="2.1" fill="#000"/>
<ellipse cx="207" cy="413.4" rx="2.25" ry="2.1" fill="#000"/>
<ellipse cx="223" cy="412.2" rx="2.25" ry="2.1" fill="#000"/>
<circle cx="39" cy="401.8" r="2.05" fill="#000"/><rect x="37" y="410.4" width="4" height="4" fill="#000"/>
<text x="50" y="406" font-size="8.25" fill="#222" stroke="#222" stroke-width="0.12" xml:space="preserve" textLength="100.5" lengthAdjust="spacingAndGlyphs">A2780: IC<tspan font-size="5.7" dy="1.8">50</tspan><tspan dy="-1.8">: 5.00  µmol×L</tspan><tspan font-size="5.5" dy="-3.5">-1</tspan></text>
<text x="50" y="416.8" font-size="8.25" fill="#222" stroke="#222" stroke-width="0.12" xml:space="preserve" textLength="112.5" lengthAdjust="spacingAndGlyphs">A2780cis :IC<tspan font-size="5.7" dy="1.8">50</tspan><tspan dy="-1.8">: 10.20 µmol×L</tspan><tspan font-size="5.5" dy="-3.5">-1</tspan></text>
<path d="M263.3 281 V417.0" stroke="#222" stroke-width="1.25" fill="none"/>
<line x1="260.1" y1="416.5" x2="263.3" y2="416.5" stroke="#222" stroke-width="1"/>
<text x="258.7" y="419.05" font-size="7.1" font-weight="bold" fill="#000" stroke="#000" stroke-width="0.2" text-anchor="end" textLength="3.67" lengthAdjust="spacingAndGlyphs">0</text>
<line x1="260.1" y1="355.15" x2="263.3" y2="355.15" stroke="#222" stroke-width="1"/>
<text x="258.7" y="357.7" font-size="7.1" font-weight="bold" fill="#000" stroke="#000" stroke-width="0.2" text-anchor="end" textLength="7.34" lengthAdjust="spacingAndGlyphs">50</text>
<line x1="260.1" y1="293.8" x2="263.3" y2="293.8" stroke="#222" stroke-width="1"/>
<text x="258.7" y="296.35" font-size="7.1" font-weight="bold" fill="#000" stroke="#000" stroke-width="0.2" text-anchor="end" textLength="11.01" lengthAdjust="spacingAndGlyphs">100</text>
<text transform="translate(245.1 348.7) rotate(-90)" font-size="8.2" font-weight="bold" fill="#111" stroke="#111" stroke-width="0.2" text-anchor="middle" textLength="45.4" lengthAdjust="spacingAndGlyphs">viability [%]</text>
<path d="M273 425.9 H306.0 M306.0 424.09999999999997 V427.7 M313.7 424.09999999999997 V428.9 M313.7 425.9 H468.2 V428.9" stroke="#222" stroke-width="1.15" fill="none"/>
<text x="314.0" y="436.0" font-size="7" font-weight="bold" fill="#000" stroke="#000" stroke-width="0.2" text-anchor="middle" textLength="5.4" lengthAdjust="spacingAndGlyphs">-8</text>
<line x1="344.59999999999997" y1="425.9" x2="344.59999999999997" y2="428.9" stroke="#222" stroke-width="1.15"/>
<text x="344.9" y="436.0" font-size="7" font-weight="bold" fill="#000" stroke="#000" stroke-width="0.2" text-anchor="middle" textLength="5.4" lengthAdjust="spacingAndGlyphs">-7</text>
<line x1="375.5" y1="425.9" x2="375.5" y2="428.9" stroke="#222" stroke-width="1.15"/>
<text x="375.8" y="436.0" font-size="7" font-weight="bold" fill="#000" stroke="#000" stroke-width="0.2" text-anchor="middle" textLength="5.4" lengthAdjust="spacingAndGlyphs">-6</text>
<line x1="406.4" y1="425.9" x2="406.4" y2="428.9" stroke="#222" stroke-width="1.15"/>
<text x="406.7" y="436.0" font-size="7" font-weight="bold" fill="#000" stroke="#000" stroke-width="0.2" text-anchor="middle" textLength="5.4" lengthAdjust="spacingAndGlyphs">-5</text>
<line x1="437.29999999999995" y1="425.9" x2="437.29999999999995" y2="428.9" stroke="#222" stroke-width="1.15"/>
<text x="437.59999999999997" y="436.0" font-size="7" font-weight="bold" fill="#000" stroke="#000" stroke-width="0.2" text-anchor="middle" textLength="5.4" lengthAdjust="spacingAndGlyphs">-4</text>
<text x="468.5" y="436.0" font-size="7" font-weight="bold" fill="#000" stroke="#000" stroke-width="0.2" text-anchor="middle" textLength="5.4" lengthAdjust="spacingAndGlyphs">-3</text>
<text x="331" y="450.2" font-size="8.15" font-weight="bold" fill="#111" stroke="#111" stroke-width="0.15" textLength="96.8" lengthAdjust="spacing">log (c) [cisplatin] mol×L<tspan font-size="5.3" dy="-3.4">-1</tspan></text>
<path d="M289.6 298.34 H306.0 M314.4 298.44 L315.4 298.44 L316.4 298.45 L317.4 298.46 L318.4 298.48 L319.4 298.49 L320.4 298.50 L321.4 298.52 L322.4 298.54 L323.4 298.55 L324.4 298.57 L325.4 298.60 L326.4 298.62 L327.4 298.65 L328.4 298.68 L329.4 298.71 L330.4 298.74 L331.4 298.78 L332.4 298.82 L333.4 298.87 L334.4 298.92 L335.4 298.97 L336.4 299.03 L337.4 299.09 L338.4 299.16 L339.4 299.24 L340.4 299.32 L341.4 299.42 L342.4 299.52 L343.4 299.63 L344.4 299.75 L345.4 299.88 L346.4 300.02 L347.4 300.18 L348.4 300.35 L349.4 300.53 L350.4 300.74 L351.4 300.96 L352.4 301.20 L353.4 301.46 L354.4 301.74 L355.4 302.06 L356.4 302.39 L357.4 302.76 L358.4 303.16 L359.4 303.60 L360.4 304.07 L361.4 304.58 L362.4 305.13 L363.4 305.73 L364.4 306.38 L365.4 307.08 L366.4 307.84 L367.4 308.65 L368.4 309.53 L369.4 310.48 L370.4 311.49 L371.4 312.58 L372.4 313.74 L373.4 314.98 L374.4 316.31 L375.4 317.72 L376.4 319.22 L377.4 320.80 L378.4 322.48 L379.4 324.24 L380.4 326.10 L381.4 328.04 L382.4 330.07 L383.4 332.18 L384.4 334.38 L385.4 336.65 L386.4 338.98 L387.4 341.38 L388.4 343.84 L389.4 346.34 L390.4 348.88 L391.4 351.45 L392.4 354.04 L393.4 356.63 L394.4 359.22 L395.4 361.80 L396.4 364.35 L397.4 366.87 L398.4 369.35 L399.4 371.77 L400.4 374.14 L401.4 376.44 L402.4 378.66 L403.4 380.81 L404.4 382.88 L405.4 384.86 L406.4 386.75 L407.4 388.55 L408.4 390.27 L409.4 391.89 L410.4 393.43 L411.4 394.87 L412.4 396.23 L413.4 397.51 L414.4 398.71 L415.4 399.83 L416.4 400.87 L417.4 401.85 L418.4 402.75 L419.4 403.60 L420.4 404.38 L421.4 405.10 L422.4 405.77 L423.4 406.39 L424.4 406.96 L425.4 407.49 L426.4 407.98 L427.4 408.43 L428.4 408.84 L429.4 409.23 L430.4 409.58 L431.4 409.90 L432.4 410.19 L433.4 410.47 L434.4 410.72 L435.4 410.95 L436.4 411.16 L437.4 411.35 L438.4 411.53 L439.4 411.69 L440.4 411.84 L441.4 411.97 L442.4 412.10 L443.4 412.21 L444.4 412.31 L445.4 412.41 L446.4 412.50 L447.4 412.58 L448.4 412.65 L449.4 412.72 L450.4 412.78 L451.4 412.83 L452.4 412.89 L453.4 412.93" stroke="#000" stroke-width="1.15" fill="none"/>
<path d="M289.6 298.34 H306.0 M314.4 298.34 L315.4 298.34 L316.4 298.34 L317.4 298.34 L318.4 298.34 L319.4 298.34 L320.4 298.34 L321.4 298.34 L322.4 298.34 L323.4 298.34 L324.4 298.34 L325.4 298.34 L326.4 298.34 L327.4 298.34 L328.4 298.34 L329.4 298.34 L330.4 298.34 L331.4 298.34 L332.4 298.34 L333.4 298.34 L334.4 298.34 L335.4 298.34 L336.4 298.34 L337.4 298.34 L338.4 298.34 L339.4 298.34 L340.4 298.34 L341.4 298.34 L342.4 298.34 L343.4 298.34 L344.4 298.34 L345.4 298.34 L346.4 298.34 L347.4 298.34 L348.4 298.34 L349.4 298.34 L350.4 298.34 L351.4 298.34 L352.4 298.34 L353.4 298.34 L354.4 298.34 L355.4 298.34 L356.4 298.34 L357.4 298.34 L358.4 298.34 L359.4 298.34 L360.4 298.34 L361.4 298.34 L362.4 298.34 L363.4 298.34 L364.4 298.34 L365.4 298.34 L366.4 298.34 L367.4 298.34 L368.4 298.34 L369.4 298.34 L370.4 298.34 L371.4 298.35 L372.4 298.35 L373.4 298.35 L374.4 298.35 L375.4 298.36 L376.4 298.37 L377.4 298.37 L378.4 298.39 L379.4 298.40 L380.4 298.42 L381.4 298.44 L382.4 298.48 L383.4 298.52 L384.4 298.58 L385.4 298.66 L386.4 298.77 L387.4 298.90 L388.4 299.08 L389.4 299.32 L390.4 299.64 L391.4 300.05 L392.4 300.60 L393.4 301.31 L394.4 302.24 L395.4 303.45 L396.4 305.01 L397.4 307.01 L398.4 309.54 L399.4 312.72 L400.4 316.63 L401.4 321.36 L402.4 326.95 L403.4 333.37 L404.4 340.51 L405.4 348.19 L406.4 356.14 L407.4 364.04 L408.4 371.61 L409.4 378.59 L410.4 384.81 L411.4 390.19 L412.4 394.71 L413.4 398.43 L414.4 401.44 L415.4 403.83 L416.4 405.71 L417.4 407.18 L418.4 408.31 L419.4 409.18 L420.4 409.85 L421.4 410.36 L422.4 410.75 L423.4 411.04 L424.4 411.27 L425.4 411.44 L426.4 411.56 L427.4 411.66 L428.4 411.73 L429.4 411.79 L430.4 411.83 L431.4 411.86 L432.4 411.89 L433.4 411.90 L434.4 411.92 L435.4 411.93 L436.4 411.94 L437.4 411.94 L438.4 411.95 L439.4 411.95 L440.4 411.95 L441.4 411.95 L442.4 411.96 L443.4 411.96 L444.4 411.96 L445.4 411.96 L446.4 411.96 L447.4 411.96 L448.4 411.96 L449.4 411.96 L450.4 411.96 L451.4 411.96 L452.4 411.96 L453.4 411.96" stroke="#000" stroke-width="1.15" fill="none"/>
<path d="M289.6 292.2 V300.59999999999997 M288.0 292.2 H291.20000000000005 M288.0 300.59999999999997 H291.20000000000005" stroke="#333" stroke-width="0.7" fill="none"/>
<path d="M344.2 297.20000000000005 V304.0 M342.59999999999997 297.20000000000005 H345.8 M342.59999999999997 304.0 H345.8" stroke="#333" stroke-width="0.7" fill="none"/>
<path d="M359.6 305.3 V313.3 M358.0 305.3 H361.20000000000005 M358.0 313.3 H361.20000000000005" stroke="#333" stroke-width="0.7" fill="none"/>
<path d="M375 318.5 V326.29999999999995 M373.4 318.5 H376.6 M373.4 326.29999999999995 H376.6" stroke="#333" stroke-width="0.7" fill="none"/>
<path d="M375 291 V297 M373.4 291 H376.6 M373.4 297 H376.6" stroke="#333" stroke-width="0.7" fill="none"/>
<path d="M328.6 299.0 V303.79999999999995 M327.0 299.0 H330.20000000000005 M327.0 303.79999999999995 H330.20000000000005" stroke="#333" stroke-width="0.7" fill="none"/>
<rect x="287.5" y="294.5" width="4.2" height="4.2" fill="#000"/>
<rect x="326.5" y="299.29999999999995" width="4.2" height="4.2" fill="#000"/>
<rect x="342.09999999999997" y="298.5" width="4.2" height="4.2" fill="#000"/>
<rect x="357.5" y="295.9" width="4.2" height="4.2" fill="#000"/>
<rect x="372.9" y="291.9" width="4.2" height="4.2" fill="#000"/>
<rect x="388.29999999999995" y="298.29999999999995" width="4.2" height="4.2" fill="#000"/>
<rect x="403.9" y="350.9" width="4.2" height="4.2" fill="#000"/>
<rect x="418.9" y="408.29999999999995" width="4.2" height="4.2" fill="#000"/>
<rect x="434.9" y="408.9" width="4.2" height="4.2" fill="#000"/>
<rect x="450.29999999999995" y="409.9" width="4.2" height="4.2" fill="#000"/>
<ellipse cx="289.6" cy="296.4" rx="2.25" ry="2.1" fill="#000"/>
<ellipse cx="328.6" cy="294" rx="2.25" ry="2.1" fill="#000"/>
<ellipse cx="359.6" cy="309.3" rx="2.25" ry="2.1" fill="#000"/>
<ellipse cx="375" cy="322.4" rx="2.25" ry="2.1" fill="#000"/>
<ellipse cx="390.4" cy="342.6" rx="2.25" ry="2.1" fill="#000"/>
<ellipse cx="406" cy="383" rx="2.25" ry="2.1" fill="#000"/>
<ellipse cx="421" cy="414" rx="2.25" ry="2.1" fill="#000"/>
<ellipse cx="437" cy="414.4" rx="2.25" ry="2.1" fill="#000"/>
<ellipse cx="452.4" cy="414.4" rx="2.25" ry="2.1" fill="#000"/>
<circle cx="269.5" cy="401.6" r="2.05" fill="#000"/><rect x="267.5" y="410.2" width="4" height="4" fill="#000"/>
<text x="281" y="406.4" font-size="8.25" fill="#222" stroke="#222" stroke-width="0.12" xml:space="preserve" textLength="97" lengthAdjust="spacingAndGlyphs">A2780: IC<tspan font-size="5.7" dy="1.8">50</tspan><tspan dy="-1.8">: 4.37 µmol×L</tspan><tspan font-size="5.5" dy="-3.5">-1</tspan></text>
<text x="281" y="417" font-size="8.25" fill="#222" stroke="#222" stroke-width="0.12" xml:space="preserve" textLength="111" lengthAdjust="spacingAndGlyphs">A2780cis :IC<tspan font-size="5.7" dy="1.8">50</tspan><tspan dy="-1.8">: 10.18 µmol×L</tspan><tspan font-size="5.5" dy="-3.5">-1</tspan></text>
<path d="M488.2 281.4 V416.7" stroke="#222" stroke-width="1.25" fill="none"/>
<line x1="485.0" y1="416.2" x2="488.2" y2="416.2" stroke="#222" stroke-width="1"/>
<text x="483.59999999999997" y="418.75" font-size="7.1" font-weight="bold" fill="#000" stroke="#000" stroke-width="0.2" text-anchor="end" textLength="3.67" lengthAdjust="spacingAndGlyphs">0</text>
<line x1="485.0" y1="355.09999999999997" x2="488.2" y2="355.09999999999997" stroke="#222" stroke-width="1"/>
<text x="483.59999999999997" y="357.65" font-size="7.1" font-weight="bold" fill="#000" stroke="#000" stroke-width="0.2" text-anchor="end" textLength="7.34" lengthAdjust="spacingAndGlyphs">50</text>
<line x1="485.0" y1="294.0" x2="488.2" y2="294.0" stroke="#222" stroke-width="1"/>
<text x="483.59999999999997" y="296.55" font-size="7.1" font-weight="bold" fill="#000" stroke="#000" stroke-width="0.2" text-anchor="end" textLength="11.01" lengthAdjust="spacingAndGlyphs">100</text>
<text transform="translate(470.1 348.7) rotate(-90)" font-size="8.2" font-weight="bold" fill="#111" stroke="#111" stroke-width="0.2" text-anchor="middle" textLength="45.4" lengthAdjust="spacingAndGlyphs">viability [%]</text>
<path d="M498 425.9 H531.4 M531.4 424.09999999999997 V427.7 M538.5 424.09999999999997 V428.9 M538.5 425.9 H692.5 V428.9" stroke="#222" stroke-width="1.15" fill="none"/>
<text x="538.8" y="436.0" font-size="7" font-weight="bold" fill="#000" stroke="#000" stroke-width="0.2" text-anchor="middle" textLength="5.4" lengthAdjust="spacingAndGlyphs">-8</text>
<line x1="569.3" y1="425.9" x2="569.3" y2="428.9" stroke="#222" stroke-width="1.15"/>
<text x="569.5999999999999" y="436.0" font-size="7" font-weight="bold" fill="#000" stroke="#000" stroke-width="0.2" text-anchor="middle" textLength="5.4" lengthAdjust="spacingAndGlyphs">-7</text>
<line x1="600.1" y1="425.9" x2="600.1" y2="428.9" stroke="#222" stroke-width="1.15"/>
<text x="600.4" y="436.0" font-size="7" font-weight="bold" fill="#000" stroke="#000" stroke-width="0.2" text-anchor="middle" textLength="5.4" lengthAdjust="spacingAndGlyphs">-6</text>
<line x1="630.9" y1="425.9" x2="630.9" y2="428.9" stroke="#222" stroke-width="1.15"/>
<text x="631.1999999999999" y="436.0" font-size="7" font-weight="bold" fill="#000" stroke="#000" stroke-width="0.2" text-anchor="middle" textLength="5.4" lengthAdjust="spacingAndGlyphs">-5</text>
<line x1="661.7" y1="425.9" x2="661.7" y2="428.9" stroke="#222" stroke-width="1.15"/>
<text x="662.0" y="436.0" font-size="7" font-weight="bold" fill="#000" stroke="#000" stroke-width="0.2" text-anchor="middle" textLength="5.4" lengthAdjust="spacingAndGlyphs">-4</text>
<text x="692.8" y="436.0" font-size="7" font-weight="bold" fill="#000" stroke="#000" stroke-width="0.2" text-anchor="middle" textLength="5.4" lengthAdjust="spacingAndGlyphs">-3</text>
<text x="556" y="450.2" font-size="8.15" font-weight="bold" fill="#111" stroke="#111" stroke-width="0.15" textLength="96.8" lengthAdjust="spacing">log (c) [cisplatin] mol×L<tspan font-size="5.3" dy="-3.4">-1</tspan></text>
<path d="M515 300.72 H531.4 M539.2 300.84 L540.2 300.85 L541.2 300.86 L542.2 300.87 L543.2 300.88 L544.2 300.90 L545.2 300.91 L546.2 300.93 L547.2 300.95 L548.2 300.97 L549.2 300.99 L550.2 301.01 L551.2 301.03 L552.2 301.06 L553.2 301.09 L554.2 301.12 L555.2 301.16 L556.2 301.19 L557.2 301.24 L558.2 301.28 L559.2 301.33 L560.2 301.38 L561.2 301.44 L562.2 301.50 L563.2 301.56 L564.2 301.64 L565.2 301.71 L566.2 301.80 L567.2 301.89 L568.2 301.99 L569.2 302.10 L570.2 302.22 L571.2 302.34 L572.2 302.48 L573.2 302.63 L574.2 302.79 L575.2 302.97 L576.2 303.16 L577.2 303.37 L578.2 303.59 L579.2 303.83 L580.2 304.09 L581.2 304.37 L582.2 304.68 L583.2 305.01 L584.2 305.37 L585.2 305.75 L586.2 306.16 L587.2 306.61 L588.2 307.09 L589.2 307.61 L590.2 308.17 L591.2 308.77 L592.2 309.41 L593.2 310.10 L594.2 310.84 L595.2 311.64 L596.2 312.49 L597.2 313.40 L598.2 314.37 L599.2 315.40 L600.2 316.50 L601.2 317.67 L602.2 318.91 L603.2 320.22 L604.2 321.61 L605.2 323.08 L606.2 324.62 L607.2 326.24 L608.2 327.94 L609.2 329.72 L610.2 331.58 L611.2 333.51 L612.2 335.51 L613.2 337.59 L614.2 339.73 L615.2 341.93 L616.2 344.19 L617.2 346.50 L618.2 348.86 L619.2 351.25 L620.2 353.68 L621.2 356.13 L622.2 358.59 L623.2 361.05 L624.2 363.52 L625.2 365.97 L626.2 368.40 L627.2 370.81 L628.2 373.18 L629.2 375.51 L630.2 377.79 L631.2 380.02 L632.2 382.19 L633.2 384.29 L634.2 386.32 L635.2 388.28 L636.2 390.16 L637.2 391.97 L638.2 393.70 L639.2 395.35 L640.2 396.93 L641.2 398.42 L642.2 399.84 L643.2 401.18 L644.2 402.45 L645.2 403.65 L646.2 404.77 L647.2 405.83 L648.2 406.83 L649.2 407.76 L650.2 408.63 L651.2 409.44 L652.2 410.20 L653.2 410.92 L654.2 411.58 L655.2 412.19 L656.2 412.77 L657.2 413.30 L658.2 413.80 L659.2 414.26 L660.2 414.68 L661.2 415.08 L662.2 415.44 L663.2 415.78 L664.2 416.10 L665.2 416.39 L666.2 416.66" stroke="#000" stroke-width="1.15" fill="none"/>
<path d="M515 297.60 H531.4 M539.2 297.60 L540.2 297.60 L541.2 297.60 L542.2 297.60 L543.2 297.60 L544.2 297.60 L545.2 297.60 L546.2 297.60 L547.2 297.60 L548.2 297.60 L549.2 297.60 L550.2 297.60 L551.2 297.61 L552.2 297.61 L553.2 297.61 L554.2 297.61 L555.2 297.61 L556.2 297.61 L557.2 297.61 L558.2 297.61 L559.2 297.61 L560.2 297.61 L561.2 297.61 L562.2 297.61 L563.2 297.61 L564.2 297.61 L565.2 297.61 L566.2 297.61 L567.2 297.61 L568.2 297.61 L569.2 297.61 L570.2 297.61 L571.2 297.61 L572.2 297.61 L573.2 297.61 L574.2 297.61 L575.2 297.61 L576.2 297.61 L577.2 297.61 L578.2 297.62 L579.2 297.62 L580.2 297.62 L581.2 297.62 L582.2 297.63 L583.2 297.63 L584.2 297.64 L585.2 297.64 L586.2 297.65 L587.2 297.66 L588.2 297.67 L589.2 297.68 L590.2 297.70 L591.2 297.72 L592.2 297.74 L593.2 297.77 L594.2 297.80 L595.2 297.83 L596.2 297.88 L597.2 297.93 L598.2 297.99 L599.2 298.06 L600.2 298.15 L601.2 298.25 L602.2 298.38 L603.2 298.52 L604.2 298.70 L605.2 298.91 L606.2 299.15 L607.2 299.44 L608.2 299.79 L609.2 300.19 L610.2 300.68 L611.2 301.24 L612.2 301.91 L613.2 302.70 L614.2 303.62 L615.2 304.70 L616.2 305.96 L617.2 307.42 L618.2 309.11 L619.2 311.05 L620.2 313.27 L621.2 315.79 L622.2 318.63 L623.2 321.81 L624.2 325.32 L625.2 329.16 L626.2 333.31 L627.2 337.75 L628.2 342.43 L629.2 347.29 L630.2 352.27 L631.2 357.29 L632.2 362.27 L633.2 367.14 L634.2 371.84 L635.2 376.31 L636.2 380.49 L637.2 384.36 L638.2 387.90 L639.2 391.10 L640.2 393.98 L641.2 396.52 L642.2 398.77 L643.2 400.74 L644.2 402.45 L645.2 403.93 L646.2 405.21 L647.2 406.30 L648.2 407.24 L649.2 408.04 L650.2 408.72 L651.2 409.29 L652.2 409.78 L653.2 410.20 L654.2 410.55 L655.2 410.84 L656.2 411.09 L657.2 411.30 L658.2 411.48 L659.2 411.63 L660.2 411.75 L661.2 411.86 L662.2 411.95 L663.2 412.02 L664.2 412.08 L665.2 412.14 L666.2 412.18 L667.2 412.22 L668.2 412.25 L669.2 412.27 L670.2 412.30 L671.2 412.31 L672.2 412.33 L673.2 412.34 L674.2 412.35 L675.2 412.36 L676.2 412.37 L677.2 412.38 L678.2 412.38" stroke="#000" stroke-width="1.15" fill="none"/>
<path d="M515 290.6 V296.6 M513.4 290.6 H516.6 M513.4 296.6 H516.6" stroke="#333" stroke-width="0.7" fill="none"/>
<path d="M600 292.6 V298.6 M598.4 292.6 H601.6 M598.4 298.6 H601.6" stroke="#333" stroke-width="0.7" fill="none"/>
<path d="M554 296.79999999999995 V302.0 M552.4 296.79999999999995 H555.6 M552.4 302.0 H555.6" stroke="#333" stroke-width="0.7" fill="none"/>
<rect x="512.9" y="296.9" width="4.2" height="4.2" fill="#000"/>
<rect x="551.9" y="294.9" width="4.2" height="4.2" fill="#000"/>
<rect x="567.3" y="294.9" width="4.2" height="4.2" fill="#000"/>
<rect x="582.6" y="291.9" width="4.2" height="4.2" fill="#000"/>
<rect x="597.9" y="293.5" width="4.2" height="4.2" fill="#000"/>
<rect x="613.5" y="306.5" width="4.2" height="4.2" fill="#000"/>
<rect x="628.9" y="353.29999999999995" width="4.2" height="4.2" fill="#000"/>
<rect x="644.3" y="407.9" width="4.2" height="4.2" fill="#000"/>
<rect x="659.9" y="407.9" width="4.2" height="4.2" fill="#000"/>
<rect x="675.3" y="409.29999999999995" width="4.2" height="4.2" fill="#000"/>
<ellipse cx="515" cy="293.6" rx="2.25" ry="2.1" fill="#000"/>
<ellipse cx="554" cy="299.4" rx="2.25" ry="2.1" fill="#000"/>
<ellipse cx="569.4" cy="302" rx="2.25" ry="2.1" fill="#000"/>
<ellipse cx="584.7" cy="312.6" rx="2.25" ry="2.1" fill="#000"/>
<ellipse cx="600" cy="321.4" rx="2.25" ry="2.1" fill="#000"/>
<ellipse cx="615.6" cy="338.6" rx="2.25" ry="2.1" fill="#000"/>
<ellipse cx="631" cy="377" rx="2.25" ry="2.1" fill="#000"/>
<ellipse cx="646.4" cy="413.4" rx="2.25" ry="2.1" fill="#000"/>
<ellipse cx="662" cy="413.6" rx="2.25" ry="2.1" fill="#000"/>
<ellipse cx="677.4" cy="413.4" rx="2.25" ry="2.1" fill="#000"/>
<circle cx="494.2" cy="402.4" r="2.05" fill="#000"/><rect x="492.2" y="410.2" width="4" height="4" fill="#000"/>
<text x="506" y="407" font-size="8.25" fill="#222" stroke="#222" stroke-width="0.12" xml:space="preserve" textLength="99" lengthAdjust="spacingAndGlyphs">A2780: IC<tspan font-size="5.7" dy="1.8">50</tspan><tspan dy="-1.8">: 5.30  µmol×L</tspan><tspan font-size="5.5" dy="-3.5">-1</tspan></text>
<text x="506" y="417.4" font-size="8.25" fill="#222" stroke="#222" stroke-width="0.12" xml:space="preserve" textLength="109.4" lengthAdjust="spacingAndGlyphs">A2780cis: IC<tspan font-size="5.7" dy="1.8">50</tspan><tspan dy="-1.8">: 9.59  µmol×L</tspan><tspan font-size="5.5" dy="-3.5">-1</tspan></text>
</svg></body></html>
